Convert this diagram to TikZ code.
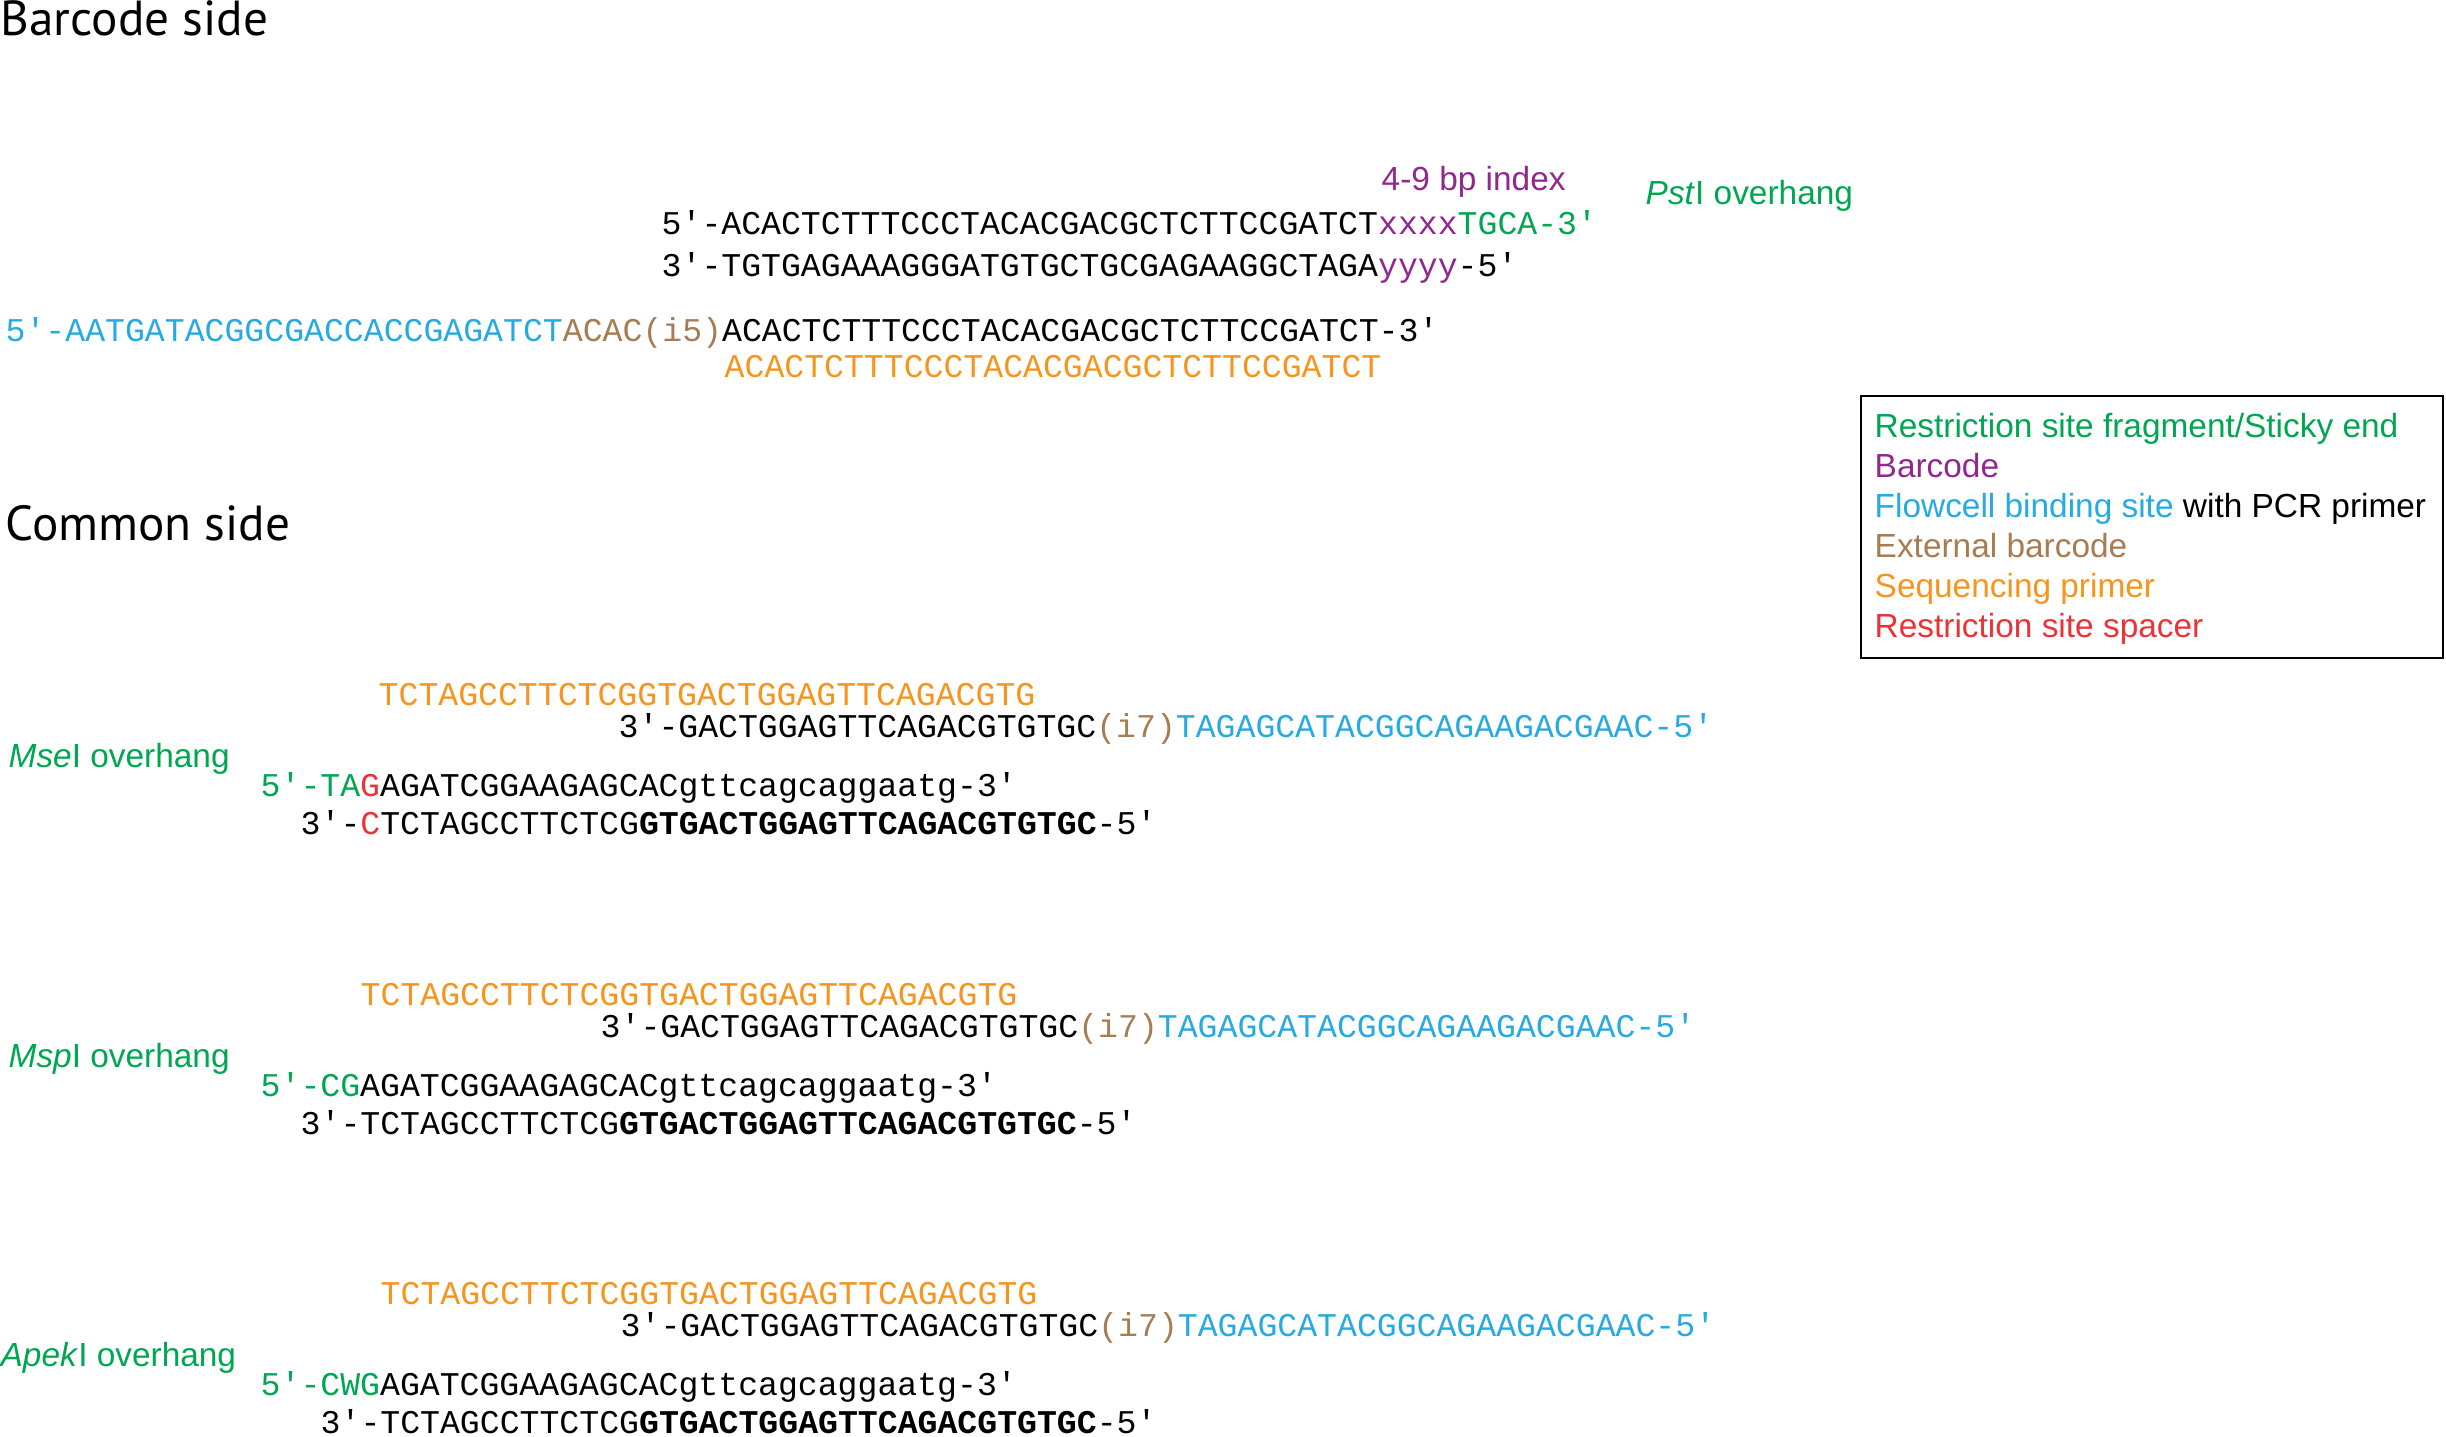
\documentclass[tikz,border=0pt]{standalone}
\usepackage{fontspec}
\setmainfont{Liberation Sans}
\newfontfamily\seqfont{Liberation Mono}
\newfontfamily\headfont{PT Sans}
\usepackage{tikz}

\definecolor{sitegreen}{RGB}{0,166,81}
\definecolor{bcpurple}{RGB}{146,39,143}
\definecolor{flowblue}{RGB}{39,170,225}
\definecolor{extbrown}{RGB}{166,124,82}
\definecolor{seqorange}{RGB}{247,148,29}
\definecolor{spacerred}{RGB}{237,50,55}

\begin{document}
\begin{tikzpicture}[x=0.01cm, y=-0.01cm,
    seq/.style={anchor=base west, inner sep=0pt, font=\seqfont\fontsize{9.43}{11}\selectfont},
    lab/.style={anchor=base west, inner sep=0pt, font=\fontsize{9.5}{11}\selectfont},
    head/.style={anchor=base west, inner sep=0pt, font=\headfont\fontsize{14}{17}\selectfont}]
    \useasboundingbox (0,0) rectangle (2446,1436);

    % barcode side
    \node[head] (bchead) at (0,35) {Barcode side};
    \node[lab, bcpurple] (index) at (1381,190) {4-9 bp index};
    \node[lab, sitegreen] (pst) at (1645,204) {\textit{Pst}I overhang};
    \node[seq] (bctop) at (661,234) {5′-ACACTCTTTCCCTACACGACGCTCTTCCGATCT\textcolor{bcpurple}{xxxx}\textcolor{sitegreen}{TGCA-3′}};
    \node[seq] (bcbot) at (661,276) {3′-TGTGAGAAAGGGATGTGCTGCGAGAAGGCTAGA\textcolor{bcpurple}{yyyy}-5′};
    \node[seq] (pfive) at (5,341) {\textcolor{flowblue}{5′-AATGATACGGCGACCACCGAGATCT}\textcolor{extbrown}{ACAC(i5)}ACACTCTTTCCCTACACGACGCTCTTCCGATCT-3′};
    \node[seq, seqorange] (rdone) at (724,377) {ACACTCTTTCCCTACACGACGCTCTTCCGATCT};

    % legend
    \draw[line width=0.6pt] (1861,396) rectangle (2443,658);
    \node[lab, sitegreen] (lgsite) at (1874,437) {Restriction site fragment/Sticky end};
    \node[lab, bcpurple] (lgbc) at (1874,477) {Barcode};
    \node[lab] (lgflow) at (1874,517) {\textcolor{flowblue}{Flowcell binding site} with PCR primer};
    \node[lab, extbrown] (lgext) at (1874,557) {External barcode};
    \node[lab, seqorange] (lgseq) at (1874,597) {Sequencing primer};
    \node[lab, spacerred] (lgsp) at (1874,637) {Restriction site spacer};

    % common side
    \node[head] (cmhead) at (5,540) {Common side};

    % MseI
    \node[seq, seqorange] (mserd) at (378,705) {TCTAGCCTTCTCGGTGACTGGAGTTCAGACGTG};
    \node[seq] (msep7) at (618,737) {3′-GACTGGAGTTCAGACGTGTGC\textcolor{extbrown}{(i7)}\textcolor{flowblue}{TAGAGCATACGGCAGAAGACGAAC-5′}};
    \node[lab, sitegreen] (mse) at (8,767) {\textit{Mse}I overhang};
    \node[seq] (msetop) at (260,796) {\textcolor{sitegreen}{5′-TA}\textcolor{spacerred}{G}AGATCGGAAGAGCACgttcagcaggaatg-3′};
    \node[seq] (msebot) at (300,834) {3′-\textcolor{spacerred}{C}TCTAGCCTTCTCG\textbf{GTGACTGGAGTTCAGACGTGTGC}-5′};

    % MspI
    \node[seq, seqorange] (msprd) at (360,1005) {TCTAGCCTTCTCGGTGACTGGAGTTCAGACGTG};
    \node[seq] (mspp7) at (600,1037) {3′-GACTGGAGTTCAGACGTGTGC\textcolor{extbrown}{(i7)}\textcolor{flowblue}{TAGAGCATACGGCAGAAGACGAAC-5′}};
    \node[lab, sitegreen] (msp) at (8,1067) {\textit{Msp}I overhang};
    \node[seq] (msptop) at (260,1096) {\textcolor{sitegreen}{5′-CG}AGATCGGAAGAGCACgttcagcaggaatg-3′};
    \node[seq] (mspbot) at (300,1134) {3′-TCTAGCCTTCTCG\textbf{GTGACTGGAGTTCAGACGTGTGC}-5′};

    % ApekI
    \node[seq, seqorange] (aperd) at (380,1304) {TCTAGCCTTCTCGGTGACTGGAGTTCAGACGTG};
    \node[seq] (apep7) at (620,1336) {3′-GACTGGAGTTCAGACGTGTGC\textcolor{extbrown}{(i7)}\textcolor{flowblue}{TAGAGCATACGGCAGAAGACGAAC-5′}};
    \node[lab, sitegreen] (ape) at (0,1366) {\textit{Apek}I overhang};
    \node[seq] (apetop) at (260,1395) {\textcolor{sitegreen}{5′-CWG}AGATCGGAAGAGCACgttcagcaggaatg-3′};
    \node[seq] (apebot) at (320,1433) {3′-TCTAGCCTTCTCG\textbf{GTGACTGGAGTTCAGACGTGTGC}-5′};
\end{tikzpicture}
\end{document}
